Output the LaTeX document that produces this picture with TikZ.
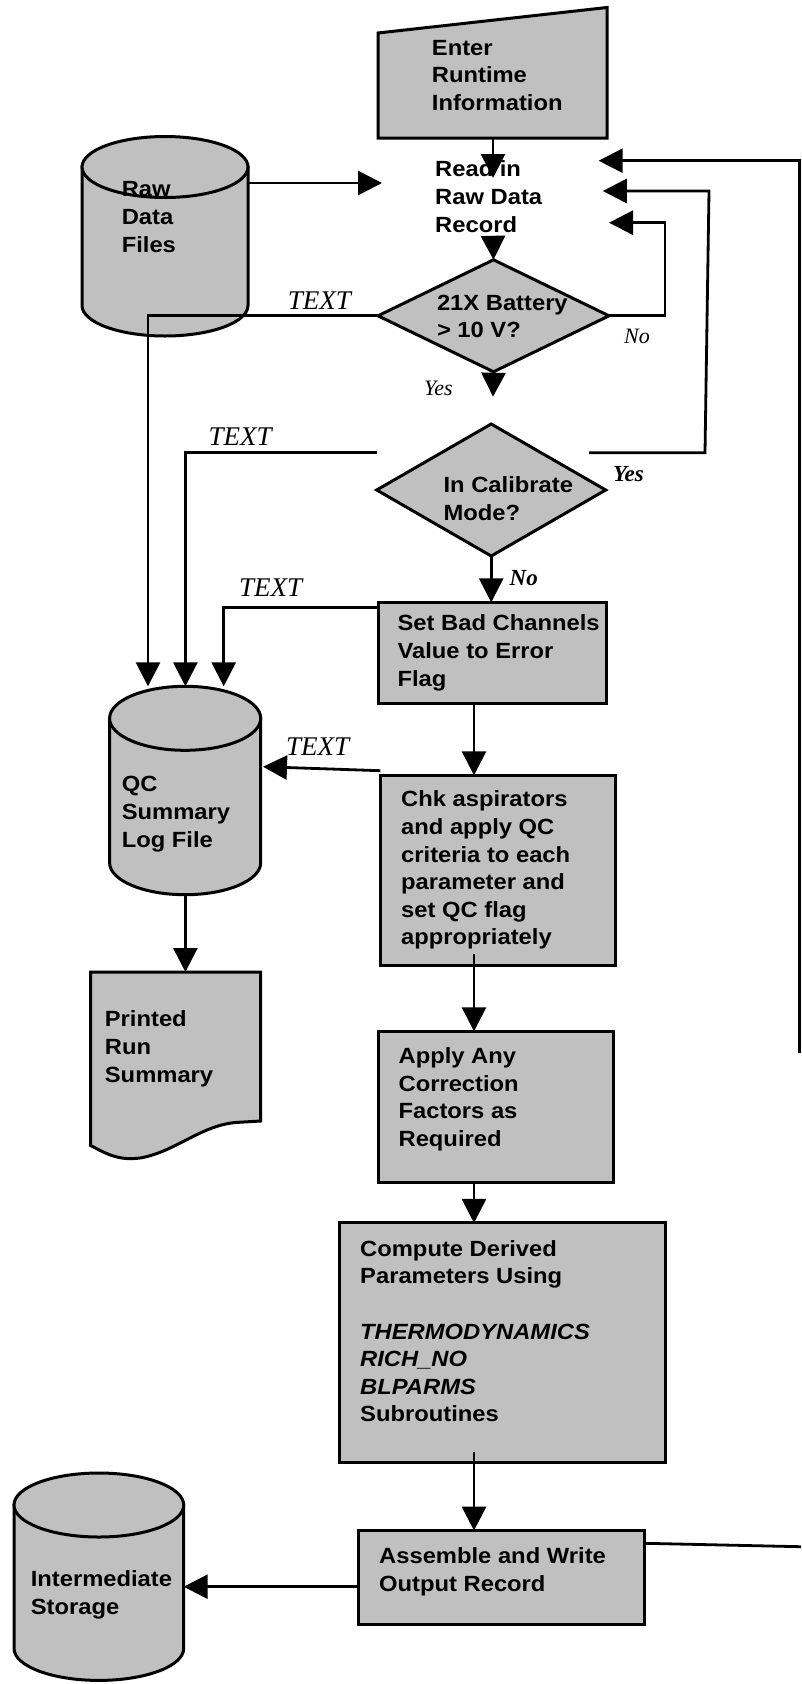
\documentclass[tikz,border=0pt]{standalone}
\usepackage{fontspec}
\usetikzlibrary{arrows.meta,shapes.geometric,calc}
\newfontfamily\lsans[FakeStretch=1.08]{Liberation Sans}
\newfontfamily\lserif{Liberation Serif}
\definecolor{shade}{RGB}{192,192,192}
% cylinder: name, xL, xR, ytop, ybot, ry
\newcommand\mycyl[6]{%
 \pgfmathsetmacro\cxc{(#2+#3)/2}%
 \pgfmathsetmacro\crx{(#3-#2)/2}%
 \pgfmathsetmacro\cyt{#4+#6}%
 \pgfmathsetmacro\cyb{#5-#6}%
 \pgfmathsetmacro\ck{0.5523*#6}%
 \pgfmathsetmacro\ckx{0.5523*\crx}%
 \pgfmathsetmacro\cw{#3-#2}%
 \pgfmathsetmacro\ch{#5-#4}%
 \pgfmathsetmacro\cym{(#4+#5)/2}%
 \filldraw[shapeln] (#2,\cyt) -- (#2,\cyb) .. controls (#2,\cyb+\ck) and (\cxc-\ckx,#5) .. (\cxc,#5)
   .. controls (\cxc+\ckx,#5) and (#3,\cyb+\ck) .. (#3,\cyb) -- (#3,\cyt) -- cycle;
 \filldraw[shapeln] (\cxc,\cyt) ellipse [x radius=\crx, y radius=#6];
 \node[inner sep=0pt, outer sep=0pt, minimum width=\cw pt, minimum height=\ch pt] (#1) at (\cxc,\cym) {};
}
\begin{document}
\begin{tikzpicture}[x=1pt,y=-1pt,
 shapeln/.style={draw=black, fill=shade, line width=3pt},
 boxs/.style={shapeln, rectangle, inner sep=0pt, outer sep=0pt},
 dia/.style={shapeln, diamond, inner sep=0pt, outer sep=0pt},
 btext/.style={anchor=north west, inner sep=0pt, align=left, font=\lsans\fontsize{22pt}{27.6pt}\bfseries\selectfont},
 lbl/.style={anchor=base west, inner sep=0pt, font=\lserif\fontsize{27pt}{31pt}\itshape\selectfont},
 yn/.style={anchor=base west, inner sep=0pt, font=\lserif\fontsize{22pt}{26pt}\itshape\selectfont},
 ynb/.style={anchor=base west, inner sep=0pt, font=\lserif\fontsize{23pt}{27pt}\bfseries\itshape\selectfont},
 conn/.style={line width=2.8pt},
 arr/.style={conn, -{Triangle[length=24pt,width=24pt]}}]
\useasboundingbox (0,0) rectangle (801,1684);

% ---------- shapes ----------
\filldraw[shapeln] (378,33) -- (607,7.5) -- (607,138) -- (378,138) -- cycle;
\coordinate (enter-s) at (493,138);

\mycyl{raw}{82}{248}{136.5}{336}{30.5}
\mycyl{qc}{109.6}{260.7}{686.3}{894.7}{32}
\mycyl{inter}{14}{183.7}{1473}{1680.4}{32}

\node[dia, minimum width=231pt, minimum height=112pt] (d1) at (493.5,315.8) {};
\node[dia, minimum width=229pt, minimum height=132pt] (d2) at (491.2,490) {};

\node[boxs, minimum width=228.4pt, minimum height=100.7pt] (setbad) at (492.5,652.7) {};
\node[boxs, minimum width=235.4pt, minimum height=190pt] (chk) at (498,870.3) {};
\node[boxs, minimum width=234.9pt, minimum height=151.4pt] (apply) at (495.7,1107) {};
\node[boxs, minimum width=325.3pt, minimum height=239.7pt] (compute) at (502.6,1342.8) {};
\node[boxs, minimum width=286pt, minimum height=94pt] (assemble) at (501.9,1577.6) {};

\filldraw[shapeln] (90.7,972) -- (260.7,972) -- (260.7,1121) -- (235,1122.5)
  .. controls (200,1126) and (175,1152) .. (140,1158)
  .. controls (118,1161) and (105,1153) .. (90.7,1145.5) -- cycle;
\coordinate (doctop) at (185.4,972);

% ---------- texts ----------
\node[btext] (t-enter) at (431.7,37) {\rule{0pt}{18pt}Enter\\Runtime\\Information};
\node[btext] (readin) at (435,158.7) {\rule{0pt}{18pt}Read in\\Raw Data\\Record};
\node[btext] (t-raw) at (121.6,178.7) {\rule{0pt}{18pt}Raw\\Data\\Files};
\node[btext] (t-d1) at (436.8,292) {\rule{0pt}{18pt}21X Battery\\> 10 V?};
\node[btext] (t-d2) at (443.4,474.7) {\rule{0pt}{18pt}In Calibrate\\Mode?};
\node[btext] (t-setbad) at (397.4,612.7) {\rule{0pt}{18pt}Set Bad Channels\\Value to Error\\Flag};
\node[btext] (t-qc) at (121.6,773.7) {\rule{0pt}{18pt}QC\\Summary\\Log File};
\node[btext] (t-chk) at (401,788.7) {\rule{0pt}{18pt}Chk aspirators\\and apply QC\\criteria to each\\parameter and\\set QC flag\\appropriately};
\node[btext] (t-printed) at (104.7,1008.7) {\rule{0pt}{18pt}Printed\\Run\\Summary};
\node[btext] (t-apply) at (398.4,1045.3) {\rule{0pt}{18pt}Apply Any\\Correction\\Factors as\\Required};
\node[btext] (t-compute) at (360,1238) {\rule{0pt}{18pt}Compute Derived\\Parameters Using\\[27.6pt]\textit{THERMODYNAMICS}\\\textit{RICH\_NO}\\\textit{BLPARMS}\\Subroutines};
\node[btext] (t-assemble) at (379,1545.3) {\rule{0pt}{18pt}Assemble and Write\\Output Record};
\node[btext] (t-inter) at (30.6,1568.7) {\rule{0pt}{18pt}Intermediate\\Storage};

\node[lbl] (lt1) at (287.6,309.3) {TEXT};
\node[lbl] (lt2) at (208.4,445) {TEXT};
\node[lbl] (lt3) at (239,596.7) {TEXT};
\node[lbl] (lt4) at (286,755) {TEXT};
\node[yn] (no1) at (624,343) {No};
\node[yn] (yes1) at (424,395) {Yes};
\node[ynb] (yes2) at (613,481.7) {Yes};
\node[ynb] (no2) at (509.5,585) {No};

% ---------- connectors ----------
\coordinate (xa) at (148,0);
\coordinate (xb) at (185.4,0);
\coordinate (xc) at (223.7,0);
\coordinate (xv) at (474,0);
\coordinate (rtop) at (493,178);
\coordinate (rbot) at (493,236);
\coordinate (rr) at (382,183);
\coordinate (ytip) at (493,396.7);
\coordinate (n1) at (665,0);
\coordinate (tipa) at (598.7,160.7);
\coordinate (tipb) at (602.8,191);
\coordinate (tipc) at (609,222.7);
\coordinate (s2l) at (377,452.7);
\coordinate (s2r) at (589,452.7);
\coordinate (c2a) at (705,452.7);
\coordinate (c2b) at (709,191);
\coordinate (sbl) at (378.2,607.3);
\coordinate (ckl) at (380.3,770.7);
\coordinate (qcr) at (263,766.7);
\coordinate (asl) at (358.9,1586.7);
\coordinate (asr) at (644.9,1543.3);
\coordinate (edge) at (801,1546.7);
\coordinate (rv) at (799.5,1053);

\draw[arr] (enter-s) -- (rtop);
\draw[arr] (raw.east |- rr) -- (rr);
\draw[arr] (rbot) -- (d1.north);
\draw[arr] (d1.south) -- (ytip);
\draw[arr] (d1.west) -- (xa |- d1.west) -- (xa |- qc.north);
\draw[arr] (d1.east) -- (n1 |- d1.east) -- (n1 |- tipc) -- (tipc);
\draw[arr] (s2l) -- (xb |- s2l) -- (xb |- qc.north);
\draw[arr] (s2r) -- (c2a) -- (c2b) -- (tipb);
\draw[arr] (d2.south) -- (d2.south |- setbad.north);
\draw[arr] (sbl) -- (xc |- sbl) -- (xc |- qc.north);
\draw[arr] (xv |- setbad.south) -- (xv |- chk.north);
\draw[arr] (ckl) -- (qcr);
\draw[arr] (xb |- qc.south) -- (doctop);
\draw[arr] ($(xv |- chk.south)+(0,-11)$) -- (xv |- apply.north);
\draw[arr] (xv |- apply.south) -- (xv |- compute.north);
\draw[arr] ($(xv |- compute.south)+(0,-11)$) -- (xv |- assemble.north);
\draw[arr] (asl) -- (inter.east |- asl);
\draw[conn] (asr) -- (edge);
\draw[arr] (rv) -- (rv |- tipa) -- (tipa);
\end{tikzpicture}
\end{document}
